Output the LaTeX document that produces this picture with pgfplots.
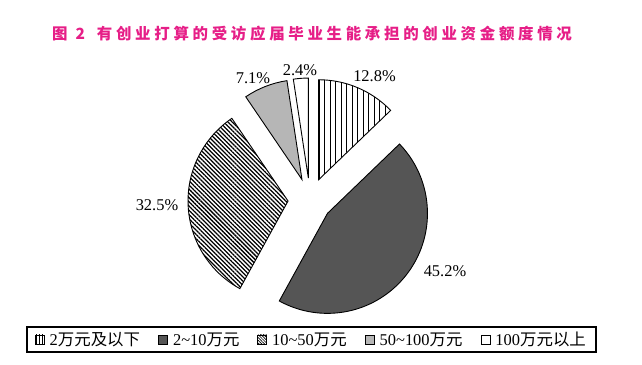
\documentclass[border=0pt]{standalone}
\usepackage{fontspec}
\setmainfont{Liberation Serif}
\newfontfamily\cjk{Noto Sans CJK SC}
\newfontfamily\cjktitle[LetterSpace=24]{Noto Sans CJK SC}
\usepackage{pgfplots}
\pgfplotsset{compat=1.18}
\usetikzlibrary{patterns.meta}
\definecolor{titlepink}{RGB}{230,30,135}
\definecolor{darkslice}{RGB}{85,85,85}
\definecolor{lightslice}{RGB}{182,182,182}
% data (percent)
\def\vA{12.8}\def\vB{45.2}\def\vC{32.5}\def\vD{7.1}\def\vE{2.4}
\tikzset{
  s1/.style={draw=black, line width=0.9bp, pattern={Lines[angle=90, distance=5.5bp, line width=0.7bp]}},
  s2/.style={draw=black, line width=0.9bp, fill=darkslice},
  s3/.style={draw=black, line width=0.9bp, pattern={Lines[angle=-45, distance=3bp, line width=1.25bp]}},
  s4/.style={draw=black, line width=0.9bp, fill=lightslice},
  s5/.style={draw=black, line width=0.9bp, fill=white},
}
% #1 start angle, #2 end angle, #3 style
\newcommand{\piesector}[3]{%
  \filldraw[#3] (axis cs:310,165) ++({(#1+#2)/2}:22bp) -- ++({#1}:100bp)
    arc[start angle={#1}, end angle={#2}, radius=100bp] -- cycle;
}
\begin{document}
\begin{tikzpicture}
\useasboundingbox (0,0) rectangle (642bp,365bp);
\begin{axis}[
  at={(0,0)}, anchor=south west,
  scale only axis, width=642bp, height=365bp,
  xmin=0, xmax=642, ymin=0, ymax=365,
  hide axis, clip=false,
  legend image code/.code={\draw[#1, line width=0.6bp] (0bp,-4.5bp) rectangle (9bp,4.5bp);
    \path (12bp,0bp);},
  legend columns=5,
  legend style={at={(0.4852,0.0699)}, anchor=center, draw=black, line width=1.3bp,
    inner xsep=8bp, inner ysep=3bp,
    font=\fontsize{16.5}{18}\selectfont,
    /tikz/every even column/.append style={column sep=16bp}},
]
\addlegendimage{draw=black, pattern={Lines[angle=90, distance=3bp, line width=0.6bp]}}
\addlegendentry{2{\cjk 万元及以下}}
\addlegendimage{draw=black, fill=darkslice}
\addlegendentry{2\textasciitilde10{\cjk 万元}}
\addlegendimage{draw=black, pattern={Lines[angle=-45, distance=2bp, line width=0.7bp]}}
\addlegendentry{10\textasciitilde50{\cjk 万元}}
\addlegendimage{draw=black, fill=lightslice}
\addlegendentry{50\textasciitilde100{\cjk 万元}}
\addlegendimage{draw=black, fill=white}
\addlegendentry{100{\cjk 万元以上}}

\piesector{90}{90-\vA*3.6}{s1}
\piesector{90-\vA*3.6}{90-(\vA+\vB)*3.6}{s2}
\piesector{90-(\vA+\vB)*3.6}{90-(\vA+\vB+\vC)*3.6}{s3}
\piesector{90-(\vA+\vB+\vC)*3.6}{90-(\vA+\vB+\vC+\vD)*3.6}{s4}
\piesector{90-(\vA+\vB+\vC+\vD)*3.6}{90-(\vA+\vB+\vC+\vD+\vE)*3.6}{s5}

\node[font=\fontsize{16.5}{18}\selectfont] at (axis cs:374.5,289) {\vA\%};
\node[font=\fontsize{16.5}{18}\selectfont] at (axis cs:445,94) {\vB\%};
\node[font=\fontsize{16.5}{18}\selectfont] at (axis cs:157,160) {\vC\%};
\node[font=\fontsize{16.5}{18}\selectfont] at (axis cs:253,287) {\vD\%};
\node[font=\fontsize{16.5}{18}\selectfont] at (axis cs:300,295) {\vE\%};

\node[text=titlepink, font=\cjktitle\bfseries\fontsize{15.5}{18}\selectfont] at (axis cs:312,331)
  {图\hspace{8bp}2\hspace{12bp}有创业打算的受访应届毕业生能承担的创业资金额度情况};
\end{axis}
\end{tikzpicture}
\end{document}
